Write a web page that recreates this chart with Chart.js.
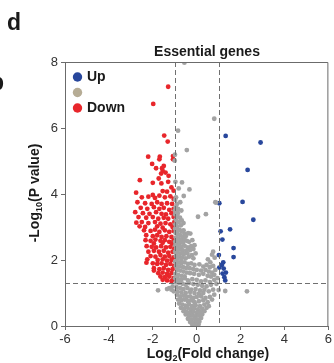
<!DOCTYPE html>
<html>
<head>
<meta charset="utf-8">
<script src="https://cdn.jsdelivr.net/npm/chart.js@4.4.1/dist/chart.umd.min.js"></script>
<style>
    html, body { margin: 0; padding: 0; background: #ffffff; }
    #wrap { position: relative; width: 334px; height: 363px; }
</style>
</head>
<body>
<div id="wrap"><canvas id="volcano-chart"></canvas></div>
<script>
// values: [log2 fold change, -log10 p]
const upGenes = [
    [1.32, 5.76], [2.91, 5.56], [2.32, 4.73], [1.03, 3.72], [2.09, 3.76], [2.58, 3.22],
    [1.09, 2.87], [1.52, 2.93], [1.17, 2.62], [1.68, 2.36], [1.68, 2.09], [1.01, 2.15],
    [1.21, 1.93], [1.15, 1.85], [1.03, 1.77], [1.23, 1.74], [1.33, 1.62], [1.18, 1.59],
    [1.26, 1.48], [1.30, 1.38]
];

const downGenes = [
    [-1.30, 7.25], [-1.98, 6.73], [-1.48, 5.77], [-1.32, 5.59], [-2.21, 5.13], [-1.68, 5.13],
    [-1.70, 5.05], [-1.08, 5.15], [-1.08, 5.05], [-2.03, 4.91], [-1.50, 4.85], [-1.85, 4.78],
    [-1.58, 4.78], [-1.55, 4.70], [-1.42, 4.65], [-1.62, 4.62], [-1.28, 4.55], [-2.59, 4.42],
    [-1.73, 4.47], [-2.00, 4.34], [-1.61, 4.32], [-1.30, 4.37], [-1.15, 4.20], [-2.76, 4.04],
    [-2.00, 3.97], [-1.55, 4.09], [-1.35, 4.07], [-1.05, 4.10],
    [-2.50, 3.90], [-2.20, 3.92], [-1.90, 3.88], [-1.70, 3.95], [-1.45, 3.90], [-1.20, 3.93],
    [-1.05, 3.85], [-2.70, 3.75], [-2.35, 3.72], [-2.05, 3.70], [-1.80, 3.75], [-1.60, 3.70],
    [-1.35, 3.72], [-1.12, 3.70], [-2.55, 3.58], [-2.25, 3.55], [-1.95, 3.60], [-1.70, 3.55],
    [-1.50, 3.58], [-1.25, 3.52], [-1.05, 3.55],
    [-2.80, 3.45], [-2.45, 3.42], [-2.15, 3.40], [-1.85, 3.45], [-1.60, 3.40], [-1.40, 3.38],
    [-1.15, 3.42], [-2.65, 3.30], [-2.30, 3.28], [-2.00, 3.30], [-1.75, 3.25], [-1.50, 3.28],
    [-1.30, 3.25], [-1.05, 3.30], [-2.75, 3.13], [-2.50, 3.15], [-2.20, 3.12], [-1.90, 3.15],
    [-1.65, 3.10], [-1.42, 3.12], [-1.20, 3.08], [-1.02, 3.15], [-2.60, 3.02], [-2.35, 3.00],
    [-1.80, 3.02], [-1.55, 2.98], [-1.10, 3.00],
    [-2.40, 2.90], [-2.10, 2.88], [-1.90, 2.92], [-1.70, 2.85], [-1.45, 2.90], [-1.25, 2.85],
    [-1.05, 2.88], [-2.30, 2.75], [-2.00, 2.72], [-1.80, 2.75], [-1.60, 2.70], [-1.38, 2.72],
    [-1.15, 2.70], [-2.33, 2.60], [-2.10, 2.58], [-1.88, 2.62], [-1.65, 2.58], [-1.45, 2.60],
    [-1.25, 2.55], [-1.05, 2.60], [-1.95, 2.50], [-1.55, 2.52], [-1.12, 2.50],
    [-2.28, 2.42], [-2.05, 2.40], [-1.85, 2.38], [-1.62, 2.42], [-1.40, 2.38], [-1.20, 2.40],
    [-1.02, 2.35], [-2.20, 2.25], [-1.95, 2.28], [-1.72, 2.25], [-1.50, 2.28], [-1.30, 2.22],
    [-1.10, 2.25], [-2.10, 2.12], [-1.88, 2.10], [-1.65, 2.15], [-1.45, 2.10], [-1.25, 2.12],
    [-1.05, 2.08], [-2.25, 2.02], [-1.78, 2.00], [-1.55, 2.02], [-1.35, 1.98], [-1.15, 2.00],
    [-2.29, 1.92], [-2.00, 1.90], [-1.80, 1.88], [-1.60, 1.90], [-1.40, 1.85], [-1.20, 1.88],
    [-1.03, 1.82], [-1.95, 1.75], [-1.70, 1.72], [-1.50, 1.75], [-1.30, 1.70], [-1.10, 1.72],
    [-1.95, 1.68], [-1.75, 1.60], [-1.55, 1.62], [-1.35, 1.58], [-1.15, 1.60], [-1.65, 1.50],
    [-1.45, 1.48], [-1.25, 1.50], [-1.05, 1.45], [-1.55, 1.40], [-1.35, 1.38], [-1.15, 1.36],
    [-1.02, 1.40]
];

const otherGenes = [
    [-0.56, 7.98], [0.80, 6.28], [-0.85, 5.92], [-0.45, 5.33], [-0.99, 5.19], [-1.00, 5.01],
    [-0.97, 4.37], [-0.67, 4.35], [-0.82, 4.17], [-0.33, 4.14], [-0.59, 3.94], [-0.94, 3.90],
    [-0.98, 3.82], [-0.90, 3.70], [-0.75, 3.75], [-0.95, 3.60], [-0.85, 3.55], [-0.70, 3.50],
    [-0.92, 3.45], [0.88, 3.74], [0.85, 3.75],
    [-0.98, 3.38], [-0.88, 3.32], [-0.76, 3.28], [-0.95, 3.22], [-0.82, 3.15], [-0.68, 3.20],
    [-0.97, 3.08], [-0.90, 3.02], [-0.72, 3.05], [-0.60, 3.12], [0.06, 3.31], [0.42, 3.39],
    [-0.99, 3.50], [-0.86, 3.42],
    [-0.56, 2.80], [-0.29, 2.80], [-0.39, 2.81], [-0.98, 2.95], [-0.90, 2.90], [-0.80, 2.92],
    [-0.70, 2.88], [-0.60, 2.90], [-0.96, 2.82], [-0.86, 2.78], [-0.75, 2.75], [-0.65, 2.70],
    [-0.95, 2.68], [-0.85, 2.65], [-0.72, 2.60], [-0.55, 2.62], [-0.45, 2.58], [-0.98, 2.55],
    [-0.88, 2.52], [-0.78, 2.50], [-0.62, 2.52], [-0.35, 2.55], [-0.20, 2.60], [-0.50, 2.72],
    [-0.92, 2.60],
    [-0.97, 2.45], [-0.85, 2.42], [-0.70, 2.40], [-0.55, 2.43], [-0.40, 2.38], [-0.25, 2.42],
    [-0.10, 2.45], [-0.93, 2.35], [-0.80, 2.32], [-0.65, 2.30], [-0.48, 2.28], [-0.30, 2.30],
    [-0.15, 2.33], [-0.98, 2.25], [-0.87, 2.22], [-0.72, 2.20], [-0.58, 2.18], [-0.42, 2.20],
    [-0.22, 2.15], [-0.05, 2.20], [-0.95, 2.12], [-0.80, 2.10], [-0.65, 2.08], [-0.50, 2.05],
    [-0.35, 2.10], [-0.15, 2.05], [0.70, 2.16], [0.82, 2.07], [0.51, 2.02], [0.62, 1.93],
    [0.12, 1.87], [-0.90, 2.02], [-0.70, 2.00], [0.75, 2.25],
    [-0.98, 1.95], [-0.85, 1.92], [-0.70, 1.90], [-0.55, 1.93], [-0.40, 1.88], [-0.25, 1.90],
    [-0.10, 1.85], [0.30, 1.80], [0.45, 1.85], [0.60, 1.78], [0.75, 1.82], [-0.95, 1.82],
    [-0.80, 1.80], [-0.62, 1.78], [-0.48, 1.76], [-0.32, 1.75], [-0.15, 1.72], [0.00, 1.70],
    [0.20, 1.68], [0.40, 1.70], [0.55, 1.65], [0.70, 1.62], [0.85, 1.70], [-0.90, 1.70],
    [-0.75, 1.68], [-0.60, 1.65], [-0.45, 1.62], [-0.30, 1.60], [-0.12, 1.58], [0.10, 1.55],
    [0.30, 1.58], [0.50, 1.52], [0.65, 1.50], [0.80, 1.55], [-0.97, 1.58], [-0.85, 1.55],
    [-0.70, 1.52], [-0.55, 1.50],
    [-0.98, 1.45], [-0.85, 1.42], [-0.70, 1.40], [-0.55, 1.45], [-0.40, 1.38], [-0.20, 1.42],
    [0.00, 1.40], [0.20, 1.35], [0.40, 1.38], [0.60, 1.33], [0.80, 1.40], [0.95, 1.45],
    [-0.95, 1.32], [-0.80, 1.30], [-0.65, 1.28], [-0.50, 1.25], [-0.35, 1.30], [-0.15, 1.27],
    [0.05, 1.25], [0.25, 1.22], [0.45, 1.20], [0.65, 1.25], [0.90, 1.28], [-1.10, 1.20],
    [-1.25, 1.15], [-1.35, 1.12], [-1.76, 1.08], [-1.15, 1.10], [-1.05, 1.05], [-0.92, 1.18],
    [-0.75, 1.15], [-0.60, 1.12], [-0.42, 1.15], [-0.25, 1.10], [-0.05, 1.12], [0.15, 1.08],
    [0.35, 1.10], [0.55, 1.05], [0.75, 1.10], [1.00, 1.09], [1.30, 1.06], [2.29, 1.05],
    [-0.88, 1.05], [-0.70, 1.02], [-0.50, 1.00], [-0.30, 1.03], [-0.10, 1.00], [0.10, 0.98],
    [0.30, 1.00],
    [-0.90, 0.95], [-0.75, 0.90], [-0.60, 0.92], [-0.45, 0.88], [-0.30, 0.90], [-0.15, 0.85],
    [0.00, 0.88], [0.20, 0.90], [0.40, 0.85], [0.60, 0.88], [0.80, 0.95], [-0.85, 0.80],
    [-0.70, 0.78], [-0.55, 0.80], [-0.40, 0.75], [-0.25, 0.78], [-0.10, 0.72], [0.10, 0.75],
    [0.30, 0.78], [0.50, 0.72], [0.70, 0.80], [-0.80, 0.68], [-0.65, 0.65], [-0.50, 0.62],
    [-0.35, 0.66], [-0.20, 0.60], [-0.05, 0.63], [0.15, 0.60], [0.35, 0.65], [0.55, 0.60],
    [-0.72, 0.55], [-0.58, 0.52], [-0.42, 0.55], [-0.28, 0.50], [-0.12, 0.53], [0.05, 0.50],
    [0.25, 0.52], [0.45, 0.55],
    [-0.60, 0.45], [-0.45, 0.42], [-0.30, 0.40], [-0.15, 0.43], [0.00, 0.40], [0.15, 0.42],
    [0.35, 0.45], [-0.50, 0.35], [-0.35, 0.30], [-0.20, 0.32], [-0.05, 0.30], [0.10, 0.33],
    [0.25, 0.35], [-0.40, 0.22], [-0.25, 0.20], [-0.10, 0.22], [0.05, 0.20], [0.20, 0.24],
    [-0.30, 0.12], [-0.15, 0.10], [0.00, 0.12], [0.12, 0.13], [-0.20, 0.05], [-0.05, 0.03],
    [0.08, 0.05], [-0.10, 0.00], [0.00, 0.00]
];

const legendLabels = ['Up', '', 'Down'];
const foldCutoffs = [-1, 1];
const pCutoff = 1.3;
const xRange = [-6, 6];
const yRange = [0, 8];

const FONT = "'Liberation Sans', Arial, sans-serif";
const RED = '#e8262b';
const GRAY = '#a3a3a3';
const BLUE = '#28479c';
const TAN = '#b6ac95';
const AXIS = '#6b6b6b';

function toXY(list) {
    return list.map(p => ({ x: p[0], y: p[1] }));
}

// text with one subscript run, centred on x
function drawSubText(ctx, parts, cx, cy, size) {
    let total = 0;
    parts.forEach(p => {
        ctx.font = 'bold ' + (p.sub ? Math.round(size * 0.62) : size) + 'px ' + FONT;
        p.w = ctx.measureText(p.text).width;
        total += p.w;
    });
    let x = cx - total / 2;
    ctx.textAlign = 'left';
    ctx.textBaseline = 'middle';
    parts.forEach(p => {
        ctx.font = 'bold ' + (p.sub ? Math.round(size * 0.62) : size) + 'px ' + FONT;
        ctx.fillText(p.text, x, cy + (p.sub ? size * 0.3 : 0));
        x += p.w;
    });
}

const decorations = {
    id: 'decorations',
    afterDatasetsDraw(chart) {
        const ctx = chart.ctx;
        const a = chart.chartArea;
        const xs = chart.scales.x;
        const ys = chart.scales.y;

        ctx.save();
        // cut-off lines
        ctx.strokeStyle = '#707070';
        ctx.lineWidth = 1;
        ctx.setLineDash([5, 3]);
        foldCutoffs.forEach(v => {
            const px = Math.round(xs.getPixelForValue(v)) + 0.5;
            ctx.beginPath();
            ctx.moveTo(px, a.top);
            ctx.lineTo(px, a.bottom);
            ctx.stroke();
        });
        const py = Math.round(ys.getPixelForValue(pCutoff)) + 0.5;
        ctx.beginPath();
        ctx.moveTo(a.left, py);
        ctx.lineTo(a.right, py);
        ctx.stroke();
        ctx.setLineDash([]);

        // top and right frame
        ctx.strokeStyle = AXIS;
        ctx.beginPath();
        ctx.moveTo(a.left, a.top + 0.5);
        ctx.lineTo(a.right - 0.5, a.top + 0.5);
        ctx.lineTo(a.right - 0.5, a.bottom);
        ctx.stroke();

        // legend
        const colors = [BLUE, TAN, RED];
        legendLabels.forEach((label, i) => {
            const y = 77 + i * 15.5;
            ctx.fillStyle = colors[i];
            ctx.beginPath();
            ctx.arc(77.5, y, 4.7, 0, Math.PI * 2);
            ctx.fill();
            ctx.fillStyle = '#1a1a1a';
            ctx.font = 'bold 14px ' + FONT;
            ctx.textAlign = 'left';
            ctx.textBaseline = 'middle';
            ctx.fillText(label, 87, y + 0.5);
        });

        // titles
        ctx.fillStyle = '#1a1a1a';
        ctx.font = 'bold 14px ' + FONT;
        ctx.textAlign = 'center';
        ctx.textBaseline = 'middle';
        ctx.fillText('Essential genes', 207, 52);

        ctx.font = 'bold 23px ' + FONT;
        ctx.textAlign = 'left';
        ctx.textBaseline = 'alphabetic';
        ctx.fillText('d', 7, 30);
        ctx.fillText('b', -10, 90);

        drawSubText(ctx, [
            { text: 'Log' }, { text: '2', sub: true }, { text: '(Fold change)' }
        ], 208, 354, 14);

        ctx.translate(35, 193);
        ctx.rotate(-Math.PI / 2);
        drawSubText(ctx, [
            { text: '-Log' }, { text: '10', sub: true }, { text: '(P value)' }
        ], 0, 0, 14);
        ctx.restore();
    }
};

const tickFont = { family: FONT, size: 13 };

new Chart(document.getElementById('volcano-chart'), {
    type: 'scatter',
    data: {
        datasets: [
            { label: '', data: toXY(otherGenes), backgroundColor: GRAY },
            { label: 'Down', data: toXY(downGenes), backgroundColor: RED },
            { label: 'Up', data: toXY(upGenes), backgroundColor: BLUE }
        ]
    },
    options: {
        responsive: true,
        maintainAspectRatio: false,
        animation: false,
        layout: { padding: { top: 62, right: 4, left: 0, bottom: 0 } },
        elements: { point: { radius: 2.4, borderWidth: 0, hoverRadius: 2.4 } },
        scales: {
            x: {
                type: 'linear',
                min: xRange[0],
                max: xRange[1],
                afterFit: s => { s.height = 37; },
                ticks: { stepSize: 2, font: tickFont, color: '#333', padding: 2 },
                grid: { drawOnChartArea: false, tickLength: 4, color: AXIS },
                border: { color: AXIS }
            },
            y: {
                type: 'linear',
                min: yRange[0],
                max: yRange[1],
                afterFit: s => { s.width = 65; },
                ticks: { stepSize: 2, font: tickFont, color: '#333', padding: 3 },
                grid: { drawOnChartArea: false, tickLength: 4, color: AXIS },
                border: { color: AXIS }
            }
        },
        plugins: {
            legend: { display: false },
            tooltip: { enabled: false }
        }
    },
    plugins: [decorations]
});
</script>
</body>
</html>
